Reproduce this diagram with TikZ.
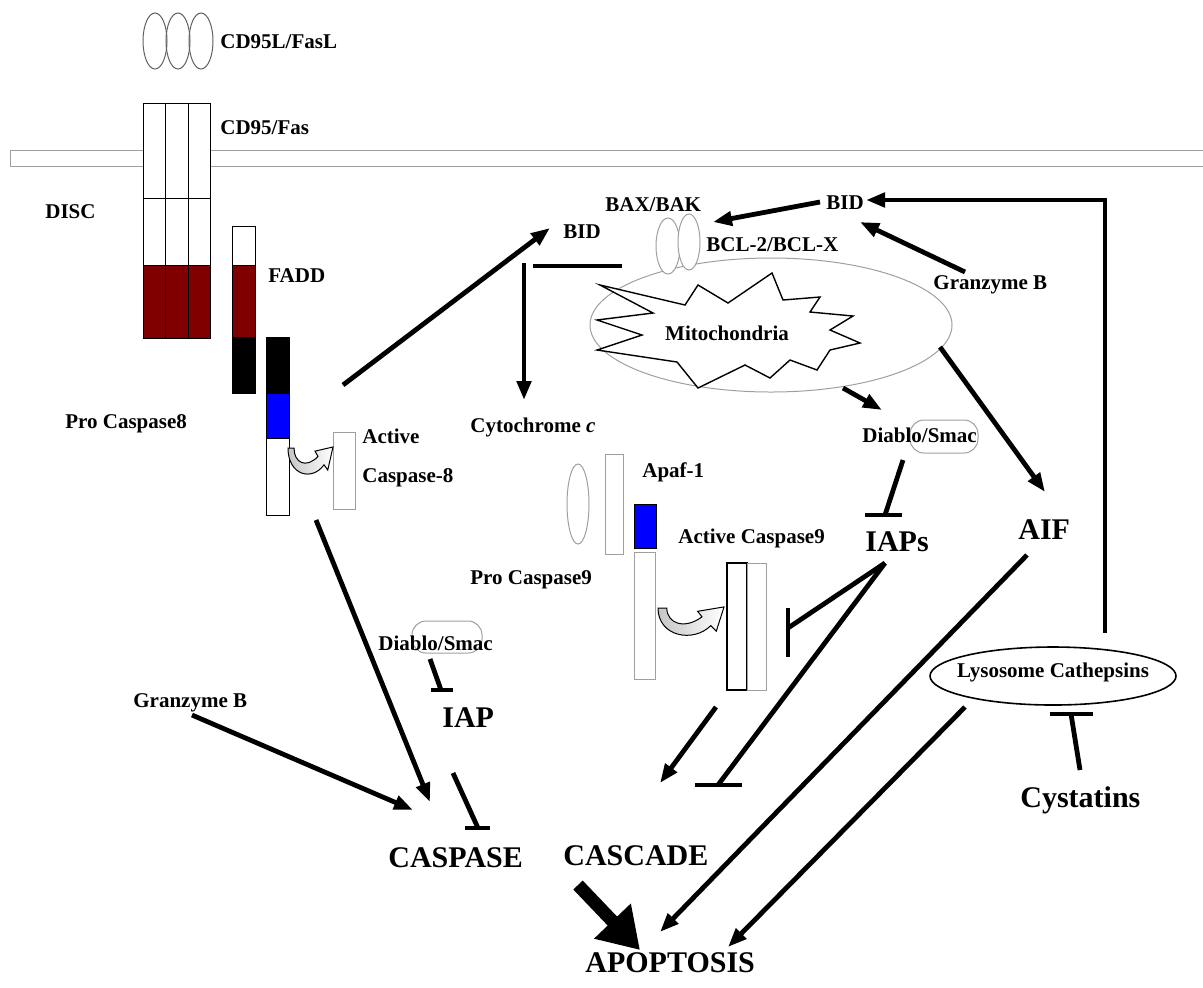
\documentclass[tikz,border=0pt]{standalone}
\usepackage{fontspec}
\setmainfont{Liberation Serif}
\usetikzlibrary{arrows.meta,shapes.geometric}
\definecolor{darkred}{RGB}{128,0,0}

\begin{document}
\begin{tikzpicture}[
        x=0.5pt, y=-0.5pt,
        font=\fontsize{10.5}{12}\selectfont\bfseries,
        txt/.style={inner sep=0pt, anchor=west},
        bigtxt/.style={txt, font=\fontsize{15}{18}\selectfont\bfseries},
        part/.style={draw=gray!75, line width=0.5pt, fill=white},
        block/.style={draw=black, line width=0.5pt},
        capsule/.style={draw=gray!75, line width=0.5pt, rounded corners=7pt},
        flow/.style={-{Triangle[length=9.5pt,width=7pt]}, line width=2.4pt},
        bigflow/.style={-{Triangle[length=20pt,width=24pt]}, line width=6.5pt},
        inhibit/.style={line width=2.4pt},
        curl/.pic={\path[draw, line width=0.5pt, left color=gray!45, right color=white]
            (0,0) -- (8,0) .. controls (8,14) and (24,20) .. (40,8) -- (36,3) -- (60,-1)
            -- (53,21) -- (48,16) .. controls (32,32) and (0,26) .. (0,0) -- cycle;}
    ]
        \useasboundingbox (0,0) rectangle (1203,987);

        % Membran und Rezeptor.
        \draw[part] (10,150) rectangle (1215,166);
        \foreach \x in {143,165.5,188} {
            \draw[block, fill=white] (\x,103) rectangle ++(22.5,162);
            \draw[block] (\x,198) -- ++(22.5,0);
            \draw[block, fill=darkred] (\x,265) rectangle ++(22.5,73);
        }
        \foreach \x in {155,178,201}
            \draw[gray!75!black, line width=0.5pt] (\x,41) ellipse [x radius=12, y radius=28];
        \node[txt] (fasl) at (220,42) {CD95L/FasL};
        \node[txt] (fas) at (220,128) {CD95/Fas};
        \node[txt] (disc) at (45,212) {DISC};

        % FADD und Procaspase 8.
        \draw[block, fill=white] (232,226) rectangle (255,265);
        \draw[block, fill=darkred] (232,265) rectangle (255,337);
        \draw[block, fill=black] (232,337) rectangle (255,393);
        \draw[block, fill=black] (266,337) rectangle (289,393);
        \draw[block, fill=blue] (266,393) rectangle (289,438);
        \draw[block, fill=white] (266,438) rectangle (289,515);
        \draw[part] (333,432) rectangle (355,509);
        \pic[xscale=0.75, yscale=1.05] at (288,448) {curl};
        \node[txt] (fadd) at (268,276) {FADD};
        \node[txt] (procasp8) at (65,424) {Pro Caspase8};
        \node[txt] (active8) at (362,436) {Active};
        \node[txt] (casp8) at (362,478) {Caspase-8};

        % Mitochondrium.
        \node[ellipse, draw=gray!75, line width=0.5pt, minimum width=181pt, minimum height=67pt, inner sep=0pt] (mito) at (771,325) {};
        \draw[fill=white, line width=0.7pt] (600,285) -- (685,305) -- (698,285) -- (728,303) -- (772,273)
            -- (783,300) -- (820,297) -- (810,312) -- (853,316) -- (830,330) -- (860,343)
            -- (830,350) -- (817,370) -- (790,360) -- (770,378) -- (745,365) -- (698,388)
            -- (677,362) -- (597,350) -- (642,335) -- (597,320) -- (653,313) -- cycle;
        \node (mitotext) at (727,333) {Mitochondria};
        \draw[part] (668,246) ellipse [x radius=12, y radius=28];
        \draw[part] (689,242) ellipse [x radius=11, y radius=28];
        \node[txt] (baxbak) at (605,205) {BAX/BAK};
        \node[txt] (bcl) at (706,245) {BCL-2/BCL-X};
        \node[txt] (bidl) at (563,232) {BID};
        \node[txt] (bidr) at (826,203) {BID};
        \node[txt] (granzr) at (933,285) {Granzyme B};
        \node[txt] (cytc) at (470,427) {Cytochrome \textit{c}};
        \draw[capsule] (910,420) rectangle (978,453);
        \node[txt] (diablor) at (862,435) {Diablo/Smac};
        \node[bigtxt] (iaps) at (865,542) {IAPs};
        \node[bigtxt] (aif) at (1018,530) {AIF};

        % Apoptosom und Caspase 9.
        \draw[part] (578,504) ellipse [x radius=11, y radius=40];
        \draw[part] (605,454) rectangle (623,554);
        \draw[block, fill=blue] (634,504) rectangle (656,548);
        \draw[part] (634,552) rectangle (655,679);
        \draw[block, line width=1.2pt, fill=white] (727,563) rectangle (747,690);
        \draw[part] (747,563) rectangle (766,690);
        \pic[scale=1.1] at (658,608) {curl};
        \node[txt] (apaf) at (642,472) {Apaf-1};
        \node[txt] (active9) at (678,538) {Active Caspase9};
        \node[txt] (procasp9) at (470,580) {Pro Caspase9};

        % Lysosom.
        \node[ellipse, draw, line width=0.8pt, minimum width=123pt, minimum height=29pt, inner sep=0pt,
            label={[inner sep=0pt, yshift=2pt]center:Lysosome Cathepsins}] (lyso) at (1053,676) {};
        \node[bigtxt] (cyst) at (1020,800) {Cystatins};

        % Linke Seite und Kaskade.
        \draw[capsule] (412,621) rectangle (482,653);
        \node[txt] (diablol) at (378,643) {Diablo/Smac};
        \node[txt] (granzl) at (133,703) {Granzyme B};
        \node[bigtxt] (iap) at (442,718) {IAP};
        \node[bigtxt] (caspase) at (388,858) {CASPASE};
        \node[bigtxt] (cascade) at (563,856) {CASCADE};
        \node[bigtxt] (apop) at (585,963) {APOPTOSIS};

        % Endpunkte der Pfeile.
        \coordinate (c8out) at (343,385);
        \coordinate (bidlin) at (550,228);
        \coordinate (blockl) at (533,266);
        \coordinate (blockr) at (622,266);
        \coordinate (cytout) at (524,263);
        \coordinate (cytin) at (524,400);
        \coordinate (bidrout) at (820,202);
        \coordinate (baxin) at (713,222);
        \coordinate (granzrout) at (965,272);
        \coordinate (bidrin) at (860,222);
        \coordinate (lysoout) at (1105,633);
        \coordinate (lysocorner) at (1105,200);
        \coordinate (bidrback) at (866,200);
        \coordinate (mitoout) at (843,388);
        \coordinate (diablorin) at (882,410);
        \coordinate (diablorout) at (903,460);
        \coordinate (iapsbar) at (885,515);
        \coordinate (mitoaif) at (940,347);
        \coordinate (aifin) at (1045,492);
        \coordinate (iapsout) at (885,563);
        \coordinate (casp9bar) at (788,628);
        \coordinate (cascbar) at (718,785);
        \coordinate (casp9out) at (716,707);
        \coordinate (cascin) at (660,783);
        \coordinate (aifout) at (1027,555);
        \coordinate (apopl) at (660,932);
        \coordinate (lysodown) at (965,707);
        \coordinate (apopr) at (728,947);
        \coordinate (cystout) at (1080,770);
        \coordinate (lysobar) at (1071,714);
        \coordinate (procasp8out) at (316,520);
        \coordinate (caspin) at (430,802);
        \coordinate (granzlout) at (192,715);
        \coordinate (caspin2) at (413,810);
        \coordinate (diablolout) at (430,659);
        \coordinate (iapbar) at (441,690);
        \coordinate (iapout) at (453,773);
        \coordinate (caspbar) at (478,828);
        \coordinate (cascout) at (578,885);
        \coordinate (apopin) at (640,950);

        % Aktivierung.
        \draw[flow] (c8out) -- (bidlin);
        \draw[inhibit] (blockl) -- (blockr);
        \draw[flow] (cytout) -- (cytin);
        \draw[flow] (bidrout) -- (baxin);
        \draw[flow] (granzrout) -- (bidrin);
        \draw[flow] (lysoout) -- (lysocorner) -- (bidrback);
        \draw[flow] (mitoout) -- (diablorin);
        \draw[flow] (mitoaif) -- (aifin);
        \draw[flow] (casp9out) -- (cascin);
        \draw[flow] (aifout) -- (apopl);
        \draw[flow] (lysodown) -- (apopr);
        \draw[flow] (procasp8out) -- (caspin);
        \draw[flow] (granzlout) -- (caspin2);
        \draw[bigflow] (cascout) -- (apopin);

        % Hemmung.
        \draw[inhibit] (diablorout) -- (iapsbar);
        \draw[inhibit] ([xshift=-10pt]iapsbar) -- ([xshift=8.5pt]iapsbar);
        \draw[inhibit] (iapsout) -- (casp9bar);
        \draw[inhibit] ([yshift=10pt]casp9bar) -- ([yshift=-14.5pt]casp9bar);
        \draw[inhibit] (iapsout) -- (cascbar);
        \draw[inhibit] ([xshift=-11.5pt]cascbar) -- ([xshift=12pt]cascbar);
        \draw[inhibit] (cystout) -- (lysobar);
        \draw[inhibit] ([xshift=-10.5pt]lysobar) -- ([xshift=11pt]lysobar);
        \draw[inhibit] (diablolout) -- (iapbar);
        \draw[inhibit] ([xshift=-5pt]iapbar) -- ([xshift=6pt]iapbar);
        \draw[inhibit] (iapout) -- (caspbar);
        \draw[inhibit] ([xshift=-6.5pt]caspbar) -- ([xshift=6pt]caspbar);
    \end{tikzpicture}
\end{document}
